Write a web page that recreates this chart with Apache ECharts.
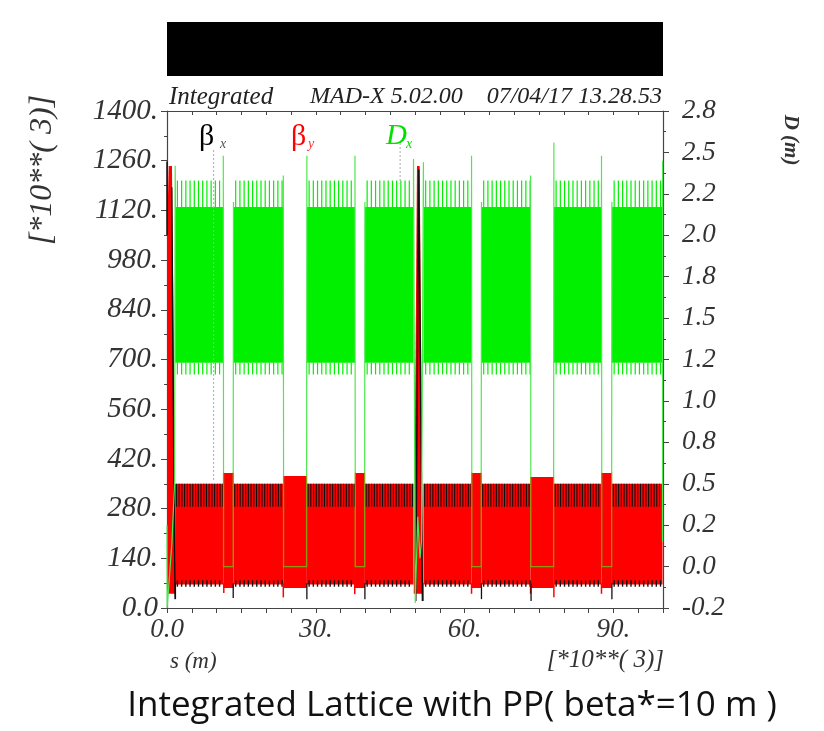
<!DOCTYPE html>
<html><head><meta charset="utf-8">
<script src="https://cdn.jsdelivr.net/npm/echarts@6/dist/echarts.min.js"></script>
<style>html,body{margin:0;padding:0;background:#fff}#c{width:824px;height:731px}</style>
</head><body><div id="c"></div>
<script>
// ---------------- data ----------------
const sTickLabels = {0: '0.0', 30: '30.', 60: '60.', 90: '90.'};
const betaTickLabels = ['0.0','140.','280.','420.','560.','700.','840.','980.','1120.','1260.','1400.'];
const dTickLabels = ['-0.2','0.0','0.2','0.5','0.8','1.0','1.2','1.5','1.8','2.0','2.2','2.5','2.8'];

// arcs (s in km): beta band and Dx band
const arcStart    = [1.65, 13.4, 28.2, 39.9, 51.7, 63.4, 78.0, 89.7];
const arcEnd      = [11.35, 23.45, 37.9, 49.7, 61.4, 73.3, 87.6, 99.9];
const arcBetaLow  = [66, 66, 66, 66, 66, 66, 66, 66];
const arcBetaHigh = [350, 350, 350, 350, 350, 350, 350, 350];
const arcDLow     = [1.23, 1.23, 1.23, 1.23, 1.23, 1.23, 1.23, 1.23];
const arcDHigh    = [2.17, 2.17, 2.17, 2.17, 2.17, 2.17, 2.17, 2.17];

// visible periodic peaks inside every arc (offset from arc start, km)
const dPeakOffset   = [0.45, 1.3, 2.15, 3.0, 3.85, 4.7, 5.55, 6.4, 7.25, 8.1, 8.95, 9.8];
const dPeakTop      = 2.33;
const dValleyBottom = 1.16;
const bxPeakOffset  = [0.25, 0.8, 1.35, 1.9, 2.45, 3.0, 3.55, 4.1, 4.65, 5.2, 5.75, 6.3, 6.85, 7.4, 7.95, 8.5, 9.05, 9.6];
const bxPeakRange   = [285, 350];
const bxValleyRange = [60, 78];

// straight sections
const ssStart     = [11.35, 23.45, 37.9, 61.4, 73.3, 87.6];
const ssEnd       = [13.4, 28.2, 39.9, 63.4, 78.0, 89.7];
const ssBetaLow   = [56, 56, 56, 56, 56, 56];
const ssBetaTop   = [380, 372, 380, 380, 369, 380];
const ssDLeftTop  = [2.48, 2.36, 2.48, 2.48, 2.36, 2.48];
const ssDRightTop = [2.2, 2.48, 2.2, 2.2, 2.56, 2.2];
const ssDRedTop   = [0.57, 0.55, 0.57, 0.57, 0.54, 0.57];
const ssDFloor    = [0.0, 0.0, 0.0, 0.0, 0.0, 0.0];

// interaction regions
const ip0BetaY  = [[0, 40], [0, 1050], [0.35, 1245], [1.0, 1245], [1.45, 600], [1.7, 66], [1.7, 40]];
const ip50BetaY = [[49.75, 40], [50.4, 1245], [50.95, 1245], [51.6, 40]];
const ip0BetaX  = [[0, 1258], [0, 1050]];
const ip0BetaX2 = [[0.95, 1185], [1.2, 700], [1.55, 150], [1.65, 25]];
const ip50BetaX = [[50.15, 20], [50.75, 1235], [51.5, 20]];
const ip0D      = [[0, 0.25], [0.03, -0.25], [1.0, 0.15], [1.55, 0.52], [1.65, 2.42], [1.7, 2.17]];
const ip50D     = [[49.7, 2.17], [49.7, 2.46], [50.05, -0.22], [50.55, 0.3], [51.0, 0.05], [51.3, 0.15], [51.7, 2.44], [51.72, 2.17]];
const endD      = [[99.9, 0.15], [99.92, 2.45]];

// short ticks below the band at section edges
const redEdgeTicks   = [[11.45, 42, 70], [23.45, 30, 70], [37.85, 39, 70], [61.4, 40, 70], [73.3, 40, 70], [78.0, 30, 70], [87.6, 40, 70]];
const blackEdgeTicks = [[1.7, 25, 70], [13.35, 28, 70], [28.2, 25, 70], [39.9, 25, 70], [51.6, 20, 70], [63.4, 25, 70], [73.4, 20, 70], [89.7, 25, 70]];

// faint dotted markers
const dottedMarks = [[[9.4, 1290], [9.4, 358]], [[47.0, 1310], [47.0, 1195]]];

// ---------------- build items ----------------
const arcBetaBands = arcStart.map((s, i) => [s, arcEnd[i], arcBetaLow[i], arcBetaHigh[i]]);
const arcDBands = arcStart.map((s, i) => [s, arcEnd[i], arcDLow[i], arcDHigh[i]]);
const ssBetaBlocks = ssStart.map((s, i) => [s, ssEnd[i], ssBetaLow[i], ssBetaTop[i]]);

function combs(offsets, lo, hi) {
  const out = [];
  arcStart.forEach((s0, i) => offsets.forEach(o => {
    const s = s0 + o;
    if (s < arcEnd[i] - 0.05) out.push([s, lo, hi]);
  }));
  return out;
}
const dTopComb = combs(dPeakOffset, arcDHigh[0], dPeakTop);
const dBotComb = combs(dPeakOffset, dValleyBottom, arcDLow[0]);
const bxTopComb = combs(bxPeakOffset, bxPeakRange[0], bxPeakRange[1]);
const bxBotComb = combs(dPeakOffset, bxValleyRange[0], bxValleyRange[1]);

const ssGreenPaths = [];
const ssOlivePaths = [];
ssStart.forEach((s0, i) => {
  const s1 = ssEnd[i];
  ssGreenPaths.push([[s0, arcDHigh[0]], [s0, ssDLeftTop[i]], [s0 + 0.05, ssDRedTop[i]]]);
  ssGreenPaths.push([[s1 - 0.05, ssDRedTop[i]], [s1, ssDRightTop[i]], [s1, arcDHigh[0]]]);
  ssOlivePaths.push([[s0 + 0.05, ssDRedTop[i]], [s0 + 0.05, ssDFloor[i]], [s1 - 0.05, ssDFloor[i]], [s1 - 0.05, ssDRedTop[i]]]);
});

// ---------------- series helpers ----------------
function rectSeries(items, yIdx, color) {
  return {
    type: 'custom', yAxisIndex: yIdx, silent: true, animation: false,
    encode: {x: [0, 1], y: [2, 3]}, data: items,
    renderItem(params, api) {
      const a = api.coord([api.value(0), api.value(3)]);
      const b = api.coord([api.value(1), api.value(2)]);
      return {type: 'rect', shape: {x: a[0], y: a[1], width: b[0] - a[0], height: b[1] - a[1]}, style: {fill: color}};
    }
  };
}
function vlineSeries(items, yIdx, color, width) {
  return {
    type: 'custom', yAxisIndex: yIdx, silent: true, animation: false,
    encode: {x: [0], y: [1, 2]}, data: items,
    renderItem(params, api) {
      const p = api.coord([api.value(0), api.value(1)]);
      const q = api.coord([api.value(0), api.value(2)]);
      return {type: 'line', shape: {x1: p[0], y1: p[1], x2: q[0], y2: q[1]}, style: {stroke: color, lineWidth: width}};
    }
  };
}
function pathSeries(paths, yIdx, color, width, dash) {
  return {
    type: 'custom', yAxisIndex: yIdx, silent: true, animation: false,
    encode: {x: [0], y: [1]}, data: paths.map(p => p[0]),
    renderItem(params, api) {
      const pts = paths[params.dataIndex].map(p => api.coord(p));
      return {type: 'polyline', shape: {points: pts}, style: {stroke: color, lineWidth: width, fill: null, lineDash: dash || null}};
    }
  };
}
function polySeries(points, yIdx, color) {
  return {
    type: 'custom', yAxisIndex: yIdx, silent: true, animation: false,
    encode: {x: [0], y: [1]}, data: [points[0]],
    renderItem(params, api) {
      return {type: 'polygon', shape: {points: points.map(p => api.coord(p))}, style: {fill: color}};
    }
  };
}

const RED = '#ff0000', GREEN = '#00f000', LGREEN = '#4ee84e', OLIVE = '#8c9c08', BLACK = '#111';
const serif = 'Liberation Serif';
const axisCol = '#444';
function lbl(size) { return {fontFamily: serif, fontStyle: 'italic', fontSize: size, color: '#333'}; }

const chart = echarts.init(document.getElementById('c'), null, {renderer: 'canvas'});
chart.setOption({
  animation: false,
  backgroundColor: '#fff',
  grid: {left: 167, top: 111, width: 496, height: 497, containLabel: false},
  xAxis: [
    {type: 'value', min: 0, max: 100, interval: 5, position: 'bottom',
     axisLine: {show: true, onZero: false, lineStyle: {color: axisCol, width: 1.2}},
     axisTick: {show: true, inside: false, length: 5, lineStyle: {color: axisCol}},
     splitLine: {show: false},
     axisLabel: Object.assign({margin: 8, formatter: v => (sTickLabels[v] !== undefined ? sTickLabels[v] : '')}, lbl(27))},
    {type: 'value', min: 0, max: 100, interval: 5, position: 'top',
     axisLine: {show: true, onZero: false, lineStyle: {color: axisCol, width: 1.2}},
     axisTick: {show: true, inside: true, length: 4, lineStyle: {color: axisCol}},
     splitLine: {show: false}, axisLabel: {show: false}}
  ],
  yAxis: [
    {type: 'value', min: 0, max: 1400, interval: 140, position: 'left',
     axisLine: {show: true, onZero: false, lineStyle: {color: axisCol, width: 1.2}},
     axisTick: {show: true, inside: false, length: 6, lineStyle: {color: axisCol}},
     minorTick: {show: true, splitNumber: 2, length: 3, lineStyle: {color: axisCol}},
     splitLine: {show: false},
     axisLabel: Object.assign({margin: 9, formatter: v => betaTickLabels[Math.round(v / 140)] || ''}, lbl(29))},
    {type: 'value', min: -0.25, max: 2.75, interval: 0.25, position: 'right',
     axisLine: {show: true, onZero: false, lineStyle: {color: axisCol, width: 1.2}},
     axisTick: {show: true, inside: false, length: 6, lineStyle: {color: axisCol}},
     minorTick: {show: true, splitNumber: 2, length: 3, lineStyle: {color: axisCol}},
     splitLine: {show: false},
     axisLabel: Object.assign({margin: 19, formatter: v => dTickLabels[Math.round((v + 0.25) / 0.25)] || ''}, lbl(27))}
  ],
  series: [
    rectSeries(arcDBands, 1, GREEN),
    vlineSeries(dTopComb, 1, GREEN, 1.2),
    vlineSeries(dBotComb, 1, GREEN, 1.2),
    rectSeries(arcBetaBands, 0, RED),
    rectSeries(ssBetaBlocks, 0, RED),
    polySeries(ip0BetaY, 0, RED),
    polySeries(ip50BetaY, 0, RED),
    vlineSeries(bxTopComb, 0, BLACK, 1.1),
    vlineSeries(bxBotComb, 0, BLACK, 1.4),
    vlineSeries(redEdgeTicks, 0, RED, 1.5),
    vlineSeries(blackEdgeTicks, 0, BLACK, 1.3),
    pathSeries([ip0BetaX, ip0BetaX2, ip50BetaX], 0, BLACK, 1.5),
    pathSeries(dottedMarks, 0, '#aaa', 1, [2, 2]),
    pathSeries(ssGreenPaths, 1, LGREEN, 1.2),
    pathSeries(ssOlivePaths, 1, OLIVE, 1.3),
    pathSeries([ip0D, ip50D, endD], 1, LGREEN, 1.2)
  ],
  graphic: [
    {type: 'rect', left: 167, top: 22, shape: {width: 496, height: 54}, style: {fill: '#000'}},
    {type: 'text', left: 169, top: 85, style: {text: 'Integrated', font: 'italic 25px "Liberation Serif"', fill: '#222'}},
    {type: 'text', right: 162, top: 85, style: {text: 'MAD-X 5.02.00    07/04/17 13.28.53', font: 'italic 24px "Liberation Serif"', fill: '#222'}},
    {type: 'text', left: 199, top: 122, style: {text: 'β', font: '30px "Liberation Serif"', fill: '#000'}},
    {type: 'text', left: 220, top: 137, style: {text: 'x', font: 'italic 14px "Liberation Serif"', fill: '#555'}},
    {type: 'text', left: 291, top: 122, style: {text: 'β', font: '30px "Liberation Serif"', fill: '#ff0000'}},
    {type: 'text', left: 308, top: 137, style: {text: 'y', font: 'italic 14px "Liberation Serif"', fill: '#ff3333'}},
    {type: 'text', left: 386, top: 122, style: {text: 'D', font: 'italic 29px "Liberation Serif"', fill: '#00e000'}},
    {type: 'text', left: 406, top: 137, style: {text: 'x', font: 'italic 14px "Liberation Serif"', fill: '#00e000'}},
    {type: 'text', x: 43, y: 170, rotation: Math.PI / 2,
     style: {text: '[*10**( 3)]', font: 'italic 32px "Liberation Serif"', fill: '#333', align: 'center', verticalAlign: 'middle'}},
    {type: 'text', x: 790, y: 140, rotation: -Math.PI / 2,
     style: {text: 'D (m)', font: 'italic bold 21px "Liberation Serif"', fill: '#333', align: 'center', verticalAlign: 'middle'}},
    {type: 'text', left: 170, top: 650, style: {text: 's (m)', font: 'italic 23px "Liberation Serif"', fill: '#333'}},
    {type: 'text', right: 160, top: 648, style: {text: '[*10**( 3)]', font: 'italic 25px "Liberation Serif"', fill: '#333'}},
    {type: 'text', x: 452, y: 706,
     style: {text: 'Integrated Lattice with PP( beta*=10 m )', font: '35px "Open Sans"', fill: '#111', align: 'center', verticalAlign: 'middle'}}
  ]
});
</script>
</body></html>
